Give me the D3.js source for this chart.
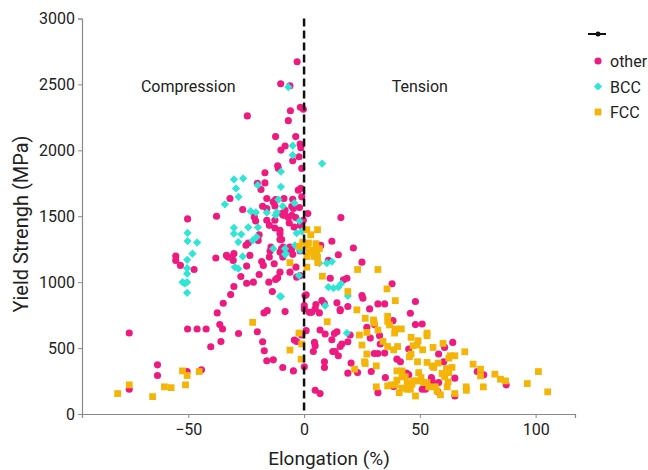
<!DOCTYPE html>
<html>
<head>
<meta charset="utf-8">
<script src="https://cdn.jsdelivr.net/npm/d3@7"></script>
<style>
  body { margin: 0; background: #fff; }
  text { font-family: Roboto, "Noto Sans", sans-serif; fill: #222; }
</style>
</head>
<body>
<div id="chart"></div>
<script>
// elongation (%) , yield strength (MPa)
const otherPts = [
  [-3.0,2672],[-10.1,2505],[-6.1,2490],[-24.5,2261],[-5.9,2300],[-1.6,2327],[-0.3,2312],[-6.8,2225],
  [-3.6,2104],[-8.2,2033],[-1.7,2048],[-1.4,2020],[-10.0,2002],[-2.2,1951],[-4.9,1921],[-1.0,1863],
  [-2.5,1698],[-1.4,1711],[-4.9,1629],[-1.0,1647],[1.6,1520],[15.9,1490],[-9.7,1520],[-8.2,1508],
  [-5.3,1508],[-6.8,1490],[-6.4,1449],[-4.3,1418],[-1.7,1431],[12.0,1310],[-9.7,1323],[7.2,1279],
  [21.3,1259],[-6.1,1241],[14.8,1208],[10.5,1165],[25.0,1152],[-6.1,1076],[-3.2,1038],[11.3,1030],
  [17.0,1018],[18.5,1030],[38.0,988],[25.0,898],[25.4,878],[0.4,898],[7.7,860],[14.2,843],
  [-8.2,777],[0.1,822],[0.1,797],[5.1,830],[4.8,797],[3.3,771],[6.6,767],[15.6,784],
  [18.9,815],[28.3,797],[31.9,835],[34.8,835],
  [-12.3,2104],[-11.4,1883],[-11.1,1863],[-16.9,1830],[-16.9,1753],[-18.6,1703],[-20.2,1749],[-32.0,1635],
  [-16.1,1635],[-12.3,1627],[-8.7,1635],[-17.9,1576],[-13.3,1609],[-12.6,1578],[-5.3,1576],[-2.0,1566],
  [-26.5,1551],[-16.1,1559],[-8.2,1545],[-4.6,1559],[-21.5,1495],[-20.9,1464],[-37.8,1500],[-50.3,1480],
  [-16.1,1470],[-12.6,1470],[-9.0,1508],[-3.6,1490],[-0.3,1470],[-15.0,1431],[-12.6,1411],[-10.4,1393],
  [-10.4,1368],[-10.4,1323],[-19.4,1360],[-24.1,1297],[-25.1,1280],[-19.8,1317],[-14.3,1266],[-14.7,1236],
  [-9.0,1266],[-6.1,1266],[-10.4,1228],[-9.7,1254],[-5.3,1254],[-9.2,1190],[-4.9,1211],[-1.7,1236],
  [-55.4,1198],[-55.4,1165],[-53.4,1127],[-47.5,1096],[-38.1,1183],[-33.5,1203],[-32.8,1190],[-30.3,1216],
  [-30.6,1165],[-23.4,1203],[-18.3,1157],[-15.0,1190],[-24.8,1122],[-17.6,1127],[-12.9,1140],[-10.4,1076],
  [-27.3,1043],[-19.4,1058],[-11.4,1033],[-24.8,992],[-21.9,1000],[-15.2,1000],[-12.3,1020],[-30.3,967],
  [-13.7,929],[-31.7,906],[0.9,904],[-1.7,1050],[-3.5,1114],
  [-34.9,840],[-37.5,767],[-17.3,767],[-15.9,784],[2.3,771],[-75.5,614],[-50.3,645],[-46.2,645],
  [-42.3,645],[-36.4,678],[-35.2,645],[-28.3,611],[-20.2,624],[-40.3,510],[-35.9,550],[-17.9,548],
  [-17.2,480],[-16.1,404],[-13.3,411],[-9.2,353],[-4.6,327],[-4.2,561],[-3.2,550],[0.9,632],
  [-1.0,599],[0.1,358],[-63.3,373],[-63.3,292],[-50.5,322],[-44.3,335],[-75.5,188],
  [8.7,840],[15.6,792],[48.1,853],[45.9,764],[48.1,678],[51.0,683],[27.1,657],[30.3,678],
  [6.9,637],[9.1,607],[14.2,624],[13.1,611],[19.9,599],[18.9,548],[12.0,563],[16.3,531],
  [15.6,512],[4.5,543],[4.8,518],[4.0,474],[12.4,474],[13.4,474],[14.8,442],[28.6,576],
  [32.6,594],[32.9,531],[30.3,459],[31.9,459],[34.8,462],[45.2,493],[58.1,455],[60.7,505],
  [64.2,543],[40.1,416],[41.6,396],[20.3,386],[8.8,396],[8.8,353],[18.9,310],[23.1,314],
  [29.0,322],[60.3,396],[74.8,322],[77.6,297],[44.2,310],[45.2,297],[35.1,276],[38.7,208],
  [55.0,276],[55.3,251],[58.1,238],[65.1,272],[51.0,188],[52.4,188],[57.7,170],[31.9,162],
  [65.1,137],[87.3,221],[4.8,180],[6.9,155],[38.4,708]
];

const bccPts = [
  [-6.8,2480],[-4.9,2035],[-4.9,1964],[7.8,1900],[-10.0,1838],[-10.0,1723],[-4.2,1600],[-9.2,1576],
  [-2.0,1464],[-3.2,1372],[-8.2,1254],[-3.9,1280],[-1.7,1241],[-7.8,1216],[6.6,1144],[9.8,1144],
  [12.0,1155],[-2.2,1050],[10.5,962],[12.7,954],[14.8,962],[16.0,988],[18.9,896],[-10.0,891],
  [9.1,822],[18.5,614],
  [-30.3,1779],[-26.3,1787],[-20.0,1736],[-29.4,1711],[-28.3,1647],[-11.1,1627],[-34.2,1591],[-23.1,1538],
  [-20.8,1530],[-16.1,1528],[-11.8,1530],[-12.3,1508],[-30.3,1412],[-24.1,1416],[-19.9,1416],[-30.3,1368],
  [-27.1,1363],[-28.4,1304],[-22.2,1317],[-20.5,1342],[-50.3,1373],[-50.3,1312],[-46.2,1300],[-13.3,1254],
  [-8.2,1211],[-26.5,1195],[-48.2,1216],[-50.5,1170],[-50.5,1106],[-50.5,1064],[-50.5,1000],[-52.5,1000],
  [-51.5,990],[-50.5,919],[-29.9,1115],[-28.4,1102],[-10.4,893],[-1.0,1386]
];

const fccPts = [
  [1.2,1398],[2.9,1360],[5.8,1398],[-0.6,1304],[-2.0,1272],[1.9,1297],[5.1,1292],[4.0,1241],
  [6.6,1254],[4.3,1195],[1.2,1195],[-6.1,1148],[5.9,1148],[1.2,1114],[23.1,1096],[31.9,1096],
  [7.9,1045],[18.9,929],[35.8,949],[39.4,860],[1.4,1279],[2.3,1228],[5.5,1228],[5.8,1190],
  [-22.2,695],[-2.2,614],[-1.0,531],[-6.1,485],[-1.3,416],[-52.5,327],[-45.3,322],[-50.5,292],
  [-51.2,221],[-60.3,206],[-57.4,200],[-65.4,132],[-75.5,221],[-80.5,155],
  [22.8,790],[10.0,700],[26.4,726],[30.0,713],[30.3,690],[36.1,741],[36.1,703],[36.9,675],
  [39.4,645],[42.0,645],[31.9,637],[39.1,614],[23.9,599],[27.1,619],[25.0,523],[46.2,581],
  [53.1,614],[53.1,594],[34.1,550],[36.1,512],[40.4,512],[38.7,487],[49.2,556],[47.1,518],
  [48.8,523],[51.2,487],[60.0,535],[55.7,505],[27.1,455],[46.2,455],[45.5,434],[69.4,472],
  [63.2,442],[65.1,442],[62.5,424],[26.1,396],[26.4,383],[49.0,396],[53.1,391],[57.9,386],
  [55.3,365],[56.0,353],[31.2,365],[21.8,340],[73.0,378],[61.5,345],[63.9,353],[76.2,340],
  [76.2,289],[82.4,302],[84.8,264],[87.0,251],[96.4,231],[101.2,322],[105.2,168],[40.1,327],
  [42.3,327],[42.3,282],[40.1,257],[43.7,282],[44.5,238],[42.3,196],[45.9,188],[44.7,200],
  [49.5,314],[50.5,276],[48.8,251],[51.6,238],[47.3,251],[46.6,226],[53.1,238],[53.8,206],
  [59.6,307],[60.7,282],[62.5,314],[62.2,244],[61.8,206],[56.7,206],[57.4,175],[31.2,206],
  [36.1,213],[39.4,221],[37.7,221],[41.1,162],[48.1,137],[44.5,188],[58.9,145],[65.1,155],
  [70.0,206],[70.1,180],[77.4,206]
];

const xTicks = [-50, 0, 50, 100];
const yTicks = [0, 500, 1000, 1500, 2000, 2500, 3000];
const seriesNames = ["other", "BCC", "FCC"];
const seriesColors = ["#ee1a7f", "#2fe6d6", "#f5b508"];

const width = 648, height = 470;
const svg = d3.select("#chart").append("svg")
  .attr("width", width)
  .attr("height", height);

const x = d3.scaleLinear().domain([-95.9, 117]).range([82, 575]);
const y = d3.scaleLinear().domain([0, 3000]).range([414, 18.5]);

// axes
const xAxis = svg.append("g")
  .attr("transform", "translate(0,414)")
  .call(d3.axisBottom(x).tickValues(xTicks).tickSize(4).tickPadding(6)
    .tickFormat(d => d < 0 ? "\u2212" + Math.abs(d) : d));
const yAxis = svg.append("g")
  .attr("transform", "translate(82,0)")
  .call(d3.axisLeft(y).tickValues(yTicks).tickSize(4).tickPadding(3).tickFormat(d3.format("d")));

[xAxis, yAxis].forEach(g => {
  g.select(".domain").attr("stroke", "#8a8a8a").attr("stroke-width", 1.2);
  g.selectAll(".tick line").attr("stroke", "#8a8a8a");
  g.selectAll(".tick text").attr("font-size", 16).attr("font-family", "Roboto, sans-serif").attr("fill", "#222");
});

// marker shapes
const circleSym = d3.symbol().type(d3.symbolCircle).size(40);
const squareSym = d3.symbol().type(d3.symbolSquare).size(46);
const diamondSym = d3.symbol().type(d3.symbolSquare).size(34); // square turned 45deg
const markerPath = [circleSym, diamondSym, squareSym];
const markerRot = [0, 45, 0];

const drawSeries = (pts, i) => {
  svg.append("g").selectAll("path").data(pts).enter().append("path")
    .attr("d", markerPath[i])
    .attr("transform", d => "translate(" + x(d[0]) + "," + y(d[1]) + ") rotate(" + markerRot[i] + ")")
    .attr("fill", seriesColors[i]);
};
drawSeries(otherPts, 0);
drawSeries(bccPts, 1);
drawSeries(fccPts, 2);

// dashed line at zero
svg.append("line")
  .attr("x1", x(0)).attr("x2", x(0))
  .attr("y1", y(3000)).attr("y2", y(0))
  .attr("stroke", "#111")
  .attr("stroke-width", 2.5)
  .attr("stroke-dasharray", "8,4");

// annotations
svg.append("text").attr("x", x(-50)).attr("y", 92).attr("text-anchor", "middle")
  .attr("font-size", 16).text("Compression");
svg.append("text").attr("x", x(50)).attr("y", 92).attr("text-anchor", "middle")
  .attr("font-size", 16).text("Tension");

// axis titles
svg.append("text")
  .attr("transform", "translate(28,224) rotate(-90)")
  .attr("text-anchor", "middle")
  .attr("font-size", 20)
  .text("Yield Strengh (MPa)");
svg.append("text")
  .attr("x", 329).attr("y", 465)
  .attr("text-anchor", "middle")
  .attr("font-size", 19)
  .text("Elongation (%)");

// legend
const legend = svg.append("g");
legend.append("line").attr("x1", 588).attr("x2", 606).attr("y1", 34).attr("y2", 34)
  .attr("stroke", "#111").attr("stroke-width", 2);
legend.append("circle").attr("cx", 598).attr("cy", 34).attr("r", 2.5).attr("fill", "#111");

seriesNames.forEach((name, i) => {
  const ly = 61 + i * 25.5;
  legend.append("path")
    .attr("d", markerPath[i])
    .attr("transform", "translate(598," + ly + ") rotate(" + markerRot[i] + ")")
    .attr("fill", seriesColors[i]);
  legend.append("text").attr("x", 610).attr("y", ly + 6).attr("font-size", 16).text(name);
});
</script>
</body>
</html>
